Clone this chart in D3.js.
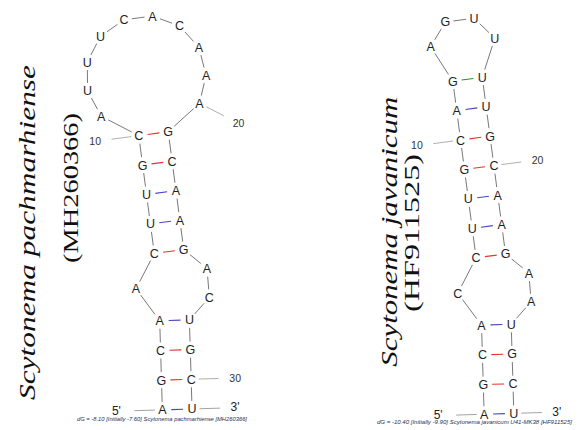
<!DOCTYPE html>
<html>
<head>
<meta charset="utf-8">
<script src="https://cdn.jsdelivr.net/npm/d3@7"></script>
<style>
  html, body { margin: 0; padding: 0; background: #ffffff; }
  svg { display: block; }
</style>
</head>
<body>
<svg id="chart" width="582" height="430"></svg>
<script>
// ---- Data: two ITS hairpin folds (sequence + dot-bracket) ----
const speciesNames = ["Scytonema pachmarhiense", "Scytonema javanicum"];
const accessions   = ["(MH260366)", "(HF911525)"];
const sequences    = ["AGCAACUUGCAUUUCACAAAGCAAGACUGCU",
                      "AGCACCUUGCAGAGUUUUGCAAGAAUGCU"];
const structures   = ["((((.(((((..........)))))..))))",
                      "((((.(((((((....)))))))..))))"];
const dGFinal      = [-8.10, -10.40];
const dGInitial    = [-7.60, -9.90];
const foldTitles   = ["Scytonema pachmarhiense [MH260366]",
                      "Scytonema javanicum U41-MK38 [HF911525]"];
const numberEvery  = 10;

// ---- Loop/stem layout (unit = one base-pair width) ----
function foldLayout(db, opts) {
  const n = db.length;
  const pt = new Array(n).fill(-1);
  const stack = [];
  for (let k = 0; k < n; k++) {
    if (db[k] === "(") stack.push(k);
    else if (db[k] === ")") { const o = stack.pop(); pt[o] = k; pt[k] = o; }
  }
  const pos = new Array(n);
  const centre = new Array(n);
  const { Lb, W, tilt } = opts;

  function stem(i, j, P, a) {
    const d = [a[1], -a[0]];
    pos[i] = P; pos[j] = [P[0] + a[0], P[1] + a[1]];
    while (i + 1 < j - 1 && pt[i + 1] === j - 1) {
      const Pn = [pos[i][0] + d[0], pos[i][1] + d[1]];
      i++; j--;
      pos[i] = Pn; pos[j] = [Pn[0] + a[0], Pn[1] + a[1]];
    }
    loop(i, j, d);
  }

  function loop(i, j, d) {
    const regions = [[]], inner = [];
    let k = i + 1;
    while (k < j) {
      if (pt[k] > k) { inner.push([k, pt[k]]); regions.push([]); k = pt[k] + 1; }
      else { regions[regions.length - 1].push(k); k++; }
    }
    const nodes = 2 + 2 * inner.length + d3.sum(regions, r => r.length);
    const R = Math.max(Lb / (2 * Math.sin(Math.PI / (nodes + 1))), 0.5);
    const thP = 2 * Math.asin(1 / (2 * R));
    const thB = 2 * Math.asin(Math.min(1, Lb / (2 * R)));
    const Pi = pos[i], Pj = pos[j];
    const h = Math.sqrt(R * R - 0.25);
    const C = [(Pi[0] + Pj[0]) / 2 + d[0] * h, (Pi[1] + Pj[1]) / 2 + d[1] * h];
    let phi = Math.atan2(Pi[1] - C[1], Pi[0] - C[0]);
    let diff = Math.atan2(Pj[1] - C[1], Pj[0] - C[0]) - phi;
    while (diff > Math.PI) diff -= 2 * Math.PI;
    while (diff < -Math.PI) diff += 2 * Math.PI;
    const s = diff < 0 ? 1 : -1;
    const free = 2 * Math.PI - (inner.length + 1) * thP;
    const wsum = d3.sum(regions, r => r.length + W);
    const at = t => [C[0] + R * Math.cos(t), C[1] + R * Math.sin(t)];
    regions.forEach((r, ri) => {
      const arc = free * (r.length + W) / wsum;
      const m = r.length;
      const th = Math.min(thB, arc / (m + 1));
      const gap = (arc - (m - 1) * th) / 2;
      r.forEach((b, bi) => { pos[b] = at(phi + s * (gap + bi * th)); centre[b] = C; });
      phi += s * arc;
      if (ri < inner.length) {
        const [kk, ll] = inner[ri];
        const Pk = at(phi); phi += s * thP; const Pl = at(phi);
        const len = Math.hypot(Pl[0] - Pk[0], Pl[1] - Pk[1]);
        stem(kk, ll, Pk, [(Pl[0] - Pk[0]) / len, (Pl[1] - Pk[1]) / len]);
      }
    });
  }

  const a = [Math.cos(tilt), Math.sin(tilt)];
  stem(0, n - 1, [-0.5 * a[0], -0.5 * a[1]], a);
  return { pos, pt, centre, n };
}

// ---- Drawing ----
const svg = d3.select("#chart");
const unit = 29.7;
const pairColour = { GC: "#e8322e", CG: "#e8322e", AU: "#4a45c0", UA: "#4a45c0", GU: "#2f8f2f", UG: "#2f8f2f" };

const panels = [
  { anchor: [177.2, 409.4], title: { x1: 34.5, c1: 232.5, len1: 335, x2: 78, c2: 188, len2: 150 },
    foot: { x: 162, y: 421, len: 170 } },
  { anchor: [499, 413.8], title: { x1: 396.5, c1: 231.7, len1: 270, x2: 419, c2: 233, len2: 158 },
    foot: { x: 474.5, y: 424, len: 195 } }
];

panels.forEach((p, idx) => {
  const seq = sequences[idx];
  const L = foldLayout(structures[idx], { Lb: 0.97, W: 10, tilt: -1.7 * Math.PI / 180 });
  const x = d3.scaleLinear().domain([0, 1]).range([p.anchor[0], p.anchor[0] + unit]);
  const y = d3.scaleLinear().domain([0, 1]).range([p.anchor[1], p.anchor[1] + unit]);
  const P = L.pos.map(q => [x(q[0]), y(q[1])]);
  const g = svg.append("g");

  // backbone
  const trim = (A, B, t0, t1) => {
    const dx = B[0] - A[0], dy = B[1] - A[1], len = Math.hypot(dx, dy);
    return [A[0] + dx * t0 / len, A[1] + dy * t0 / len, B[0] - dx * t1 / len, B[1] - dy * t1 / len];
  };
  const bb = d3.range(L.n - 1).map(k => trim(P[k], P[k + 1], 8, 8));
  g.selectAll("line.bb").data(bb).join("line").attr("class", "bb")
    .attr("x1", d => d[0]).attr("y1", d => d[1]).attr("x2", d => d[2]).attr("y2", d => d[3])
    .attr("stroke", "#555").attr("stroke-width", 0.8);

  // base pairs
  const pairs = d3.range(L.n).filter(k => L.pt[k] > k).map(k => ({ i: k, j: L.pt[k] }));
  g.selectAll("line.bp").data(pairs).join("line").attr("class", "bp")
    .attr("x1", d => P[d.i][0] + (P[d.j][0] - P[d.i][0]) * 0.3)
    .attr("y1", d => P[d.i][1] + (P[d.j][1] - P[d.i][1]) * 0.3)
    .attr("x2", d => P[d.i][0] + (P[d.j][0] - P[d.i][0]) * 0.7)
    .attr("y2", d => P[d.i][1] + (P[d.j][1] - P[d.i][1]) * 0.7)
    .attr("stroke", d => pairColour[seq[d.i] + seq[d.j]] || "#888")
    .attr("stroke-width", 1.1);

  // outward direction for a base
  const outward = k => {
    let v;
    if (L.pt[k] >= 0) v = [P[k][0] - P[L.pt[k]][0], P[k][1] - P[L.pt[k]][1]];
    else v = [P[k][0] - x(L.centre[k][0]), P[k][1] - y(L.centre[k][1])];
    const len = Math.hypot(v[0], v[1]);
    return [v[0] / len, v[1] / len];
  };

  // numbering ticks
  const numbered = d3.range(L.n).filter(k => (k + 1) % numberEvery === 0)
    .map(k => ({ k, u: outward(k), label: String(k + 1) }));
  g.selectAll("line.num").data(numbered).join("line").attr("class", "num")
    .attr("x1", d => P[d.k][0] + d.u[0] * 7.5).attr("y1", d => P[d.k][1] + d.u[1] * 7.5)
    .attr("x2", d => P[d.k][0] + d.u[0] * 27.5).attr("y2", d => P[d.k][1] + d.u[1] * 27.5)
    .attr("stroke", "#9a9a9a").attr("stroke-width", 0.8);
  g.selectAll("text.num").data(numbered).join("text").attr("class", "num")
    .attr("x", d => P[d.k][0] + d.u[0] * 44).attr("y", d => P[d.k][1] + d.u[1] * 44)
    .attr("dy", "0.35em").attr("text-anchor", "middle")
    .attr("font-family", "'Liberation Sans', Arial, sans-serif").attr("font-size", 10.5)
    .attr("fill", "#333").text(d => d.label);

  // 5' and 3' ends
  const ends = [{ k: 0, label: "5'", dist: 46 }, { k: L.n - 1, label: "3'", dist: 43 }]
    .map(e => ({ ...e, u: outward(e.k) }));
  g.selectAll("line.end").data(ends).join("line").attr("class", "end")
    .attr("x1", d => P[d.k][0] + d.u[0] * 7.5).attr("y1", d => P[d.k][1] + d.u[1] * 7.5)
    .attr("x2", d => P[d.k][0] + d.u[0] * 28).attr("y2", d => P[d.k][1] + d.u[1] * 28)
    .attr("stroke", "#8a8a8a").attr("stroke-width", 0.8);
  g.selectAll("text.end").data(ends).join("text").attr("class", "end")
    .attr("x", d => P[d.k][0] + d.u[0] * d.dist).attr("y", d => P[d.k][1] + d.u[1] * d.dist)
    .attr("dy", "0.3em").attr("text-anchor", "middle")
    .attr("font-family", "'Liberation Sans', Arial, sans-serif").attr("font-size", 12)
    .attr("fill", "#222").text(d => d.label);

  // nucleotides
  g.selectAll("text.nt").data(d3.range(L.n)).join("text").attr("class", "nt")
    .attr("x", k => P[k][0]).attr("y", k => P[k][1])
    .attr("dy", "0.36em").attr("text-anchor", "middle")
    .attr("font-family", "'Liberation Sans', Arial, sans-serif").attr("font-size", 12.5)
    .attr("fill", "#1e1e1e").text(k => seq[k]);

  // footer
  g.append("text")
    .attr("x", p.foot.x).attr("y", p.foot.y).attr("text-anchor", "middle")
    .attr("font-family", "'Liberation Sans', Arial, sans-serif").attr("font-style", "italic")
    .attr("font-size", 5.6).attr("fill", "#27305a")
    .attr("textLength", p.foot.len).attr("lengthAdjust", "spacingAndGlyphs")
    .text(`dG = ${dGFinal[idx].toFixed(2)} [Initially ${dGInitial[idx].toFixed(2)}] ${foldTitles[idx]}`);

  // rotated species title
  const t = p.title;
  svg.append("text")
    .attr("transform", `translate(${t.x1},${t.c1}) rotate(-90)`)
    .attr("text-anchor", "middle")
    .attr("font-family", "'Liberation Serif', 'Times New Roman', serif").attr("font-style", "italic")
    .attr("font-size", 23).attr("fill", "#111")
    .attr("textLength", t.len1).attr("lengthAdjust", "spacingAndGlyphs")
    .text(speciesNames[idx]);
  svg.append("text")
    .attr("transform", `translate(${t.x2},${t.c2}) rotate(-90)`)
    .attr("text-anchor", "middle")
    .attr("font-family", "'Liberation Serif', 'Times New Roman', serif")
    .attr("font-size", 21).attr("fill", "#111")
    .attr("textLength", t.len2).attr("lengthAdjust", "spacingAndGlyphs")
    .text(accessions[idx]);
});
</script>
</body>
</html>
